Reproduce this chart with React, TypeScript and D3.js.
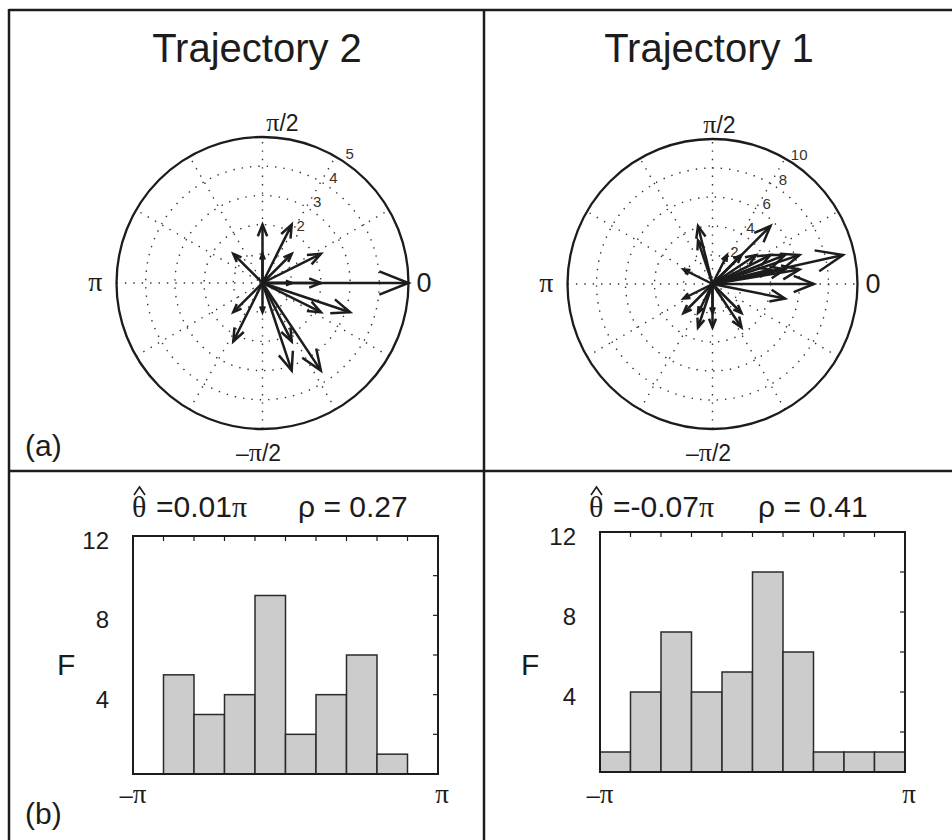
import React from 'react';
import * as d3 from 'd3';

// compass vectors (x, y components) for each trajectory
const traj2U = [0, 0, 1, 1, 2, -1, 1, 2, 5, 3, 2, 0, -1, -1, 1, 1, 2];
const traj2V = [2, 1, 2, 1, 1, 1, 0, 0, 0, -1, -1, -1, -1, -2, -2, -3, -3];
const traj1U = [-1, -1, -2, 1, 2, 4, 3, 4, 5, 6, 9, 4, 5, 6, 7, 5, 2, 2, 0, 0, -1, -1, -2, -2];
const traj1V = [4, 3, 1, 2, 2, 4, 2, 2, 2, 2, 2, 1, 1, 1, 0, -1, -2, -3, -2, -3, -2, -3, -2, -1];

const traj2Rings = [1, 2, 3, 4, 5];
const traj2RingLabels = ['2', '3', '4', '5'];
const traj1Rings = [2, 4, 6, 8, 10];
const traj1RingLabels = ['2', '4', '6', '8', '10'];

// histogram counts, 10 bins from -pi to pi
const hist2Counts = [0, 5, 3, 4, 9, 2, 4, 6, 1, 0];
const hist1Counts = [1, 4, 7, 4, 5, 10, 6, 1, 1, 1];
const histYLabels = [4, 8, 12];
const histYMinor = [2, 4, 6, 8, 10];

const INK = '#1c1c1c';
const SANS = '"Liberation Sans", Arial, Helvetica, sans-serif';
const SERIF = '"Liberation Serif", "Times New Roman", serif';

function Polar({ cx, cy, R, rings, ringLabels, u, v, topDx }) {
  const rMax = rings[rings.length - 1];
  const sx = d3.scaleLinear().domain([-rMax, rMax]).range([cx - R, cx + R]);
  const sy = d3.scaleLinear().domain([-rMax, rMax]).range([cy + R, cy - R]);
  const rs = d3.scaleLinear().domain([0, rMax]).range([0, R]);
  const line = d3.line().x((d) => sx(d[0])).y((d) => sy(d[1]));
  const spokes = d3.range(0, 180, 30);
  const lblAng = (56 * Math.PI) / 180;

  return (
    <g>
      {rings.slice(0, -1).map((r) => (
        <circle key={'r' + r} cx={cx} cy={cy} r={rs(r)} fill="none" stroke="#333" strokeWidth={1.4} strokeDasharray="1.4 7" />
      ))}
      {spokes.map((a) => {
        const t = (a * Math.PI) / 180;
        return (
          <line key={'s' + a}
            x1={cx - R * Math.cos(t)} y1={cy + R * Math.sin(t)}
            x2={cx + R * Math.cos(t)} y2={cy - R * Math.sin(t)}
            stroke="#333" strokeWidth={1.4} strokeDasharray="1.4 7" />
        );
      })}
      <circle cx={cx} cy={cy} r={R} fill="none" stroke={INK} strokeWidth={2.3} />
      {ringLabels.map((lb) => {
        const rr = rs(+lb) + 10;
        return (
          <text key={'l' + lb} x={cx + rr * Math.cos(lblAng)} y={cy - rr * Math.sin(lblAng) + 5}
            textAnchor="middle" fontSize={15} fill="#333" fontFamily={SANS}>{lb}</text>
        );
      })}
      {u.map((ux, i) => {
        const vy = v[i];
        const shaft = line([[0, 0], [ux, vy]]);
        const head = line([
          [0.8 * ux - 0.08 * vy, 0.8 * vy + 0.08 * ux],
          [ux, vy],
          [0.8 * ux + 0.08 * vy, 0.8 * vy - 0.08 * ux],
        ]);
        return (
          <g key={'a' + i}>
            <path d={shaft} stroke={INK} strokeWidth={2.5} fill="none" />
            <path d={head} stroke={INK} strokeWidth={2.5} fill="none" strokeLinejoin="miter" />
          </g>
        );
      })}
      <text x={cx + topDx} y={cy - R - 6} textAnchor="middle" fontSize={23} fill={INK} fontFamily={SANS}>
        <tspan fontFamily={SERIF} fontSize={26}>π</tspan>/2
      </text>
      <text x={cx - 4} y={cy + R + 32} textAnchor="middle" fontSize={23} fill={INK} fontFamily={SANS}>
        –<tspan fontFamily={SERIF} fontSize={26}>π</tspan>/2
      </text>
      <text x={cx + R + 8} y={cy + 9} fontSize={27} fill={INK} fontFamily={SANS}>0</text>
      <text x={cx - R - 14} y={cy + 8} textAnchor="end" fontSize={28} fill={INK} fontFamily={SERIF}>π</text>
    </g>
  );
}

function Hist({ left, right, top, bottom, counts, thetaX, thetaText, rhoX, rhoText, fX }) {
  const edges = d3.range(counts.length + 1).map((i) => -Math.PI + (i * 2 * Math.PI) / counts.length);
  const x = d3.scaleLinear().domain([-Math.PI, Math.PI]).range([left, right]);
  const y = d3.scaleLinear().domain([0, 12]).range([bottom, top]);
  return (
    <g>
      {counts.map((c, i) =>
        c > 0 ? (
          <rect key={'b' + i} x={x(edges[i])} y={y(c)} width={x(edges[i + 1]) - x(edges[i])} height={y(0) - y(c)}
            fill="#cccccc" stroke="#2a2a2a" strokeWidth={1.5} />
        ) : null
      )}
      {edges.slice(1, -1).map((e, i) => (
        <line key={'t' + i} x1={x(e)} x2={x(e)} y1={top} y2={top + 5} stroke={INK} strokeWidth={1.2} />
      ))}
      {histYMinor.map((t) => (
        <line key={'m' + t} x1={right} x2={right - 5} y1={y(t)} y2={y(t)} stroke={INK} strokeWidth={1.2} />
      ))}
      <rect x={left} y={top} width={right - left} height={bottom - top} fill="none" stroke={INK} strokeWidth={2} />
      {histYLabels.map((t) => (
        <text key={'y' + t} x={left - 24} y={y(t) + 13} textAnchor="end" fontSize={24} fill={INK} fontFamily={SANS}>{t}</text>
      ))}
      <text x={fX} y={675} fontSize={30} fill={INK} fontFamily={SANS}>F</text>
      <text x={x(-Math.PI)} y={803} textAnchor="middle" fontSize={24} fill={INK} fontFamily={SANS}>
        –<tspan fontFamily={SERIF} fontSize={27}>π</tspan>
      </text>
      <text x={x(Math.PI) + 4} y={803} textAnchor="middle" fontSize={27} fill={INK} fontFamily={SERIF}>π</text>
      {/* theta hat title */}
      <text x={thetaX} y={517} fontSize={30} fill={INK} fontFamily={SERIF}>θ</text>
      <path d={`M${thetaX + 2},${495} L${thetaX + 7.5},${487} L${thetaX + 13},${495}`} fill="none" stroke={INK} strokeWidth={1.6} />
      <text x={thetaX + 24} y={517} fontSize={30} fill={INK} fontFamily={SANS}>
        {thetaText}<tspan fontFamily={SERIF}>π</tspan>
      </text>
      <text x={rhoX} y={517} fontSize={30} fill={INK} fontFamily={SANS}>{rhoText}</text>
    </g>
  );
}

export default function App() {
  return (
    <svg width={952} height={840} style={{ position: 'absolute', left: 0, top: 0, background: '#fff' }}>
      <rect x={0} y={0} width={952} height={840} fill="#fff" />
      {/* panel frame */}
      <line x1={9} y1={10} x2={952} y2={10} stroke={INK} strokeWidth={2.5} />
      <line x1={9} y1={9} x2={9} y2={840} stroke={INK} strokeWidth={2.5} />
      <line x1={484} y1={9} x2={484} y2={840} stroke={INK} strokeWidth={2.5} />
      <line x1={9} y1={471} x2={952} y2={471} stroke={INK} strokeWidth={2.5} />

      <text x={257} y={62} textAnchor="middle" fontSize={40} fill={INK} fontFamily={SANS}>Trajectory 2</text>
      <text x={709} y={62} textAnchor="middle" fontSize={40} fill={INK} fontFamily={SANS}>Trajectory 1</text>

      <Polar cx={262.5} cy={283} R={146} rings={traj2Rings} ringLabels={traj2RingLabels} u={traj2U} v={traj2V} topDx={20} />
      <Polar cx={712.5} cy={284} R={145} rings={traj1Rings} ringLabels={traj1RingLabels} u={traj1U} v={traj1V} topDx={7} />

      <text x={25} y={456} fontSize={30} fill={INK} fontFamily={SANS}>(a)</text>
      <text x={25} y={824} fontSize={30} fill={INK} fontFamily={SANS}>(b)</text>

      <Hist left={133} right={438} top={536} bottom={774} counts={hist2Counts}
        thetaX={132} thetaText="=0.01" rhoX={298} rhoText="ρ = 0.27" fX={57} />
      <Hist left={600} right={905} top={532} bottom={772} counts={hist1Counts}
        thetaX={589} thetaText="=-0.07" rhoX={758} rhoText="ρ = 0.41" fX={521} />
    </svg>
  );
}
